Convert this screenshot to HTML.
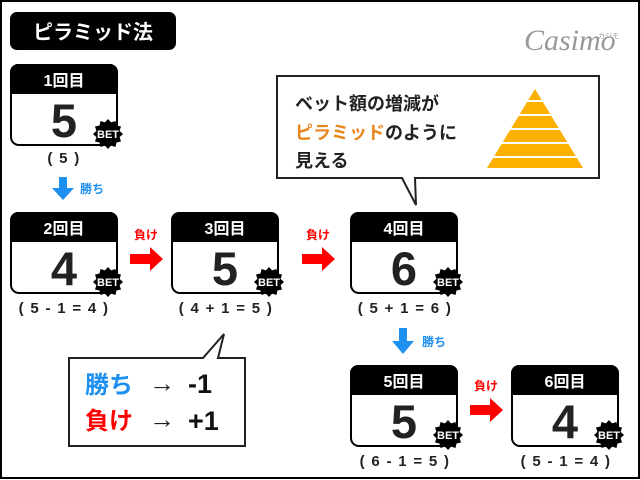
<!DOCTYPE html>
<html><head><meta charset="utf-8"><style>
html,body{margin:0;padding:0;background:#fff}
svg{display:block}
text{font-family:"Liberation Sans","Noto Sans CJK JP",sans-serif}
</style></head><body>
<svg width="640" height="480" viewBox="0 0 640 480" xmlns="http://www.w3.org/2000/svg">
<defs>
<polygon id="bet" points="15,0 11.6,3.1 13,7.5 8.5,8.5 7.5,13 3.1,11.6 0,15 -3.1,11.6 -7.5,13 -8.5,8.5 -13,7.5 -11.6,3.1 -15,0 -11.6,-3.1 -13,-7.5 -8.5,-8.5 -7.5,-13 -3.1,-11.6 0,-15 3.1,-11.6 7.5,-13 8.5,-8.5 13,-7.5 11.6,-3.1"/>
</defs>
<rect x="1" y="1" width="638" height="477" fill="#fff" stroke="#000" stroke-width="2"/>
<rect x="10" y="12" width="166" height="38" rx="7" fill="#000"/>
<text x="93" y="39" font-size="20" font-weight="bold" fill="#fff" text-anchor="middle">ピラミッド法</text>
<text x="524" y="50" font-size="30" fill="#999" style="font-family:'Liberation Serif',serif;font-style:italic">Casimo</text>
<text x="598" y="38" font-size="7" fill="#999">カジモ</text>

<g transform="translate(10,64)">
<rect x="1" y="1" width="106" height="80" rx="8" fill="#fff" stroke="#000" stroke-width="2"/>
<path d="M0,8 a8,8 0 0 1 8,-8 h92 a8,8 0 0 1 8,8 v22 h-108z" fill="#000"/>
<text x="54" y="22" font-size="16" font-weight="bold" fill="#fff" text-anchor="middle">1回目</text>
<text x="54" y="73" font-size="47" font-weight="bold" fill="#222" text-anchor="middle">5</text>
<use href="#bet" x="98" y="70"/><text x="98" y="74" font-size="11" font-weight="bold" fill="#fff" text-anchor="middle">BET</text>
</g>
<g transform="translate(10,212)">
<rect x="1" y="1" width="106" height="80" rx="8" fill="#fff" stroke="#000" stroke-width="2"/>
<path d="M0,8 a8,8 0 0 1 8,-8 h92 a8,8 0 0 1 8,8 v22 h-108z" fill="#000"/>
<text x="54" y="22" font-size="16" font-weight="bold" fill="#fff" text-anchor="middle">2回目</text>
<text x="54" y="73" font-size="47" font-weight="bold" fill="#222" text-anchor="middle">4</text>
<use href="#bet" x="98" y="70"/><text x="98" y="74" font-size="11" font-weight="bold" fill="#fff" text-anchor="middle">BET</text>
</g>
<g transform="translate(171,212)">
<rect x="1" y="1" width="106" height="80" rx="8" fill="#fff" stroke="#000" stroke-width="2"/>
<path d="M0,8 a8,8 0 0 1 8,-8 h92 a8,8 0 0 1 8,8 v22 h-108z" fill="#000"/>
<text x="54" y="22" font-size="16" font-weight="bold" fill="#fff" text-anchor="middle">3回目</text>
<text x="54" y="73" font-size="47" font-weight="bold" fill="#222" text-anchor="middle">5</text>
<use href="#bet" x="98" y="70"/><text x="98" y="74" font-size="11" font-weight="bold" fill="#fff" text-anchor="middle">BET</text>
</g>
<g transform="translate(350,212)">
<rect x="1" y="1" width="106" height="80" rx="8" fill="#fff" stroke="#000" stroke-width="2"/>
<path d="M0,8 a8,8 0 0 1 8,-8 h92 a8,8 0 0 1 8,8 v22 h-108z" fill="#000"/>
<text x="54" y="22" font-size="16" font-weight="bold" fill="#fff" text-anchor="middle">4回目</text>
<text x="54" y="73" font-size="47" font-weight="bold" fill="#222" text-anchor="middle">6</text>
<use href="#bet" x="98" y="70"/><text x="98" y="74" font-size="11" font-weight="bold" fill="#fff" text-anchor="middle">BET</text>
</g>
<g transform="translate(350,365)">
<rect x="1" y="1" width="106" height="80" rx="8" fill="#fff" stroke="#000" stroke-width="2"/>
<path d="M0,8 a8,8 0 0 1 8,-8 h92 a8,8 0 0 1 8,8 v22 h-108z" fill="#000"/>
<text x="54" y="22" font-size="16" font-weight="bold" fill="#fff" text-anchor="middle">5回目</text>
<text x="54" y="73" font-size="47" font-weight="bold" fill="#222" text-anchor="middle">5</text>
<use href="#bet" x="98" y="70"/><text x="98" y="74" font-size="11" font-weight="bold" fill="#fff" text-anchor="middle">BET</text>
</g>
<g transform="translate(511,365)">
<rect x="1" y="1" width="106" height="80" rx="8" fill="#fff" stroke="#000" stroke-width="2"/>
<path d="M0,8 a8,8 0 0 1 8,-8 h92 a8,8 0 0 1 8,8 v22 h-108z" fill="#000"/>
<text x="54" y="22" font-size="16" font-weight="bold" fill="#fff" text-anchor="middle">6回目</text>
<text x="54" y="73" font-size="47" font-weight="bold" fill="#222" text-anchor="middle">4</text>
<use href="#bet" x="98" y="70"/><text x="98" y="74" font-size="11" font-weight="bold" fill="#fff" text-anchor="middle">BET</text>
</g>

<g font-size="15" font-weight="bold" fill="#222" text-anchor="middle" style="letter-spacing:1.3px">
<text x="64" y="163">( 5 )</text>
<text x="64" y="313">( 5 - 1 = 4 )</text>
<text x="226" y="313">( 4 + 1 = 5 )</text>
<text x="405" y="313">( 5 + 1 = 6 )</text>
<text x="405" y="466">( 6 - 1 = 5 )</text>
<text x="566" y="466">( 5 - 1 = 4 )</text>
</g>

<polygon points="59,177 67,177 67,188 74,188 63,200 52,188 59,188" fill="#1e90f0"/>
<text x="80" y="193" font-size="12" font-weight="bold" fill="#1e90f0">勝ち</text>
<polygon points="399,328 407,328 407,341 414,341 403,354 392,341 399,341" fill="#1e90f0"/>
<text x="422" y="346" font-size="12" font-weight="bold" fill="#1e90f0">勝ち</text>

<polygon points="130,254 150,254 150,247 163,259 150,271 150,264 130,264" fill="#ff0000"/>
<text x="146" y="239" font-size="12" font-weight="bold" fill="#ff0000" text-anchor="middle">負け</text>
<polygon points="302,254 322,254 322,247 335,259 322,271 322,264 302,264" fill="#ff0000"/>
<text x="318" y="239" font-size="12" font-weight="bold" fill="#ff0000" text-anchor="middle">負け</text>
<polygon points="470,405 490,405 490,398 503,410 490,422 490,415 470,415" fill="#ff0000"/>
<text x="486" y="390" font-size="12" font-weight="bold" fill="#ff0000" text-anchor="middle">負け</text>

<path d="M277,76 H599 V178 H415 L416,205 L402,178 H277 Z" fill="#fff" stroke="#222" stroke-width="2"/>
<text x="295" y="110" font-size="18" font-weight="bold" fill="#222">ベット額の増減が</text>
<text x="295" y="139" font-size="18" font-weight="bold" fill="#222"><tspan fill="#e8861e">ピラミッド</tspan>のように</text>
<text x="295" y="167" font-size="18" font-weight="bold" fill="#222">見える</text>
<polygon points="535,89 583,168 487,168" fill="#fcb000"/>
<g stroke="#fff" stroke-width="2">
<line x1="480" y1="101" x2="590" y2="101"/><line x1="480" y1="115" x2="590" y2="115"/><line x1="480" y1="129" x2="590" y2="129"/><line x1="480" y1="143" x2="590" y2="143"/><line x1="480" y1="157" x2="590" y2="157"/>
</g>

<path d="M69,358 H203 L224,334 L218,358 H245 V446 H69 Z" fill="#fff" stroke="#222" stroke-width="2"/>
<text x="85" y="393" font-size="24" font-weight="bold" fill="#1e90f0">勝ち</text>
<text x="149" y="392" font-size="26" fill="#222">→</text>
<text x="188" y="393" font-size="27" font-weight="bold" fill="#111">-1</text>
<text x="85" y="429" font-size="24" font-weight="bold" fill="#ff0000">負け</text>
<text x="149" y="428" font-size="26" fill="#222">→</text>
<text x="188" y="430" font-size="27" font-weight="bold" fill="#111">+1</text>
</svg>
</body></html>
